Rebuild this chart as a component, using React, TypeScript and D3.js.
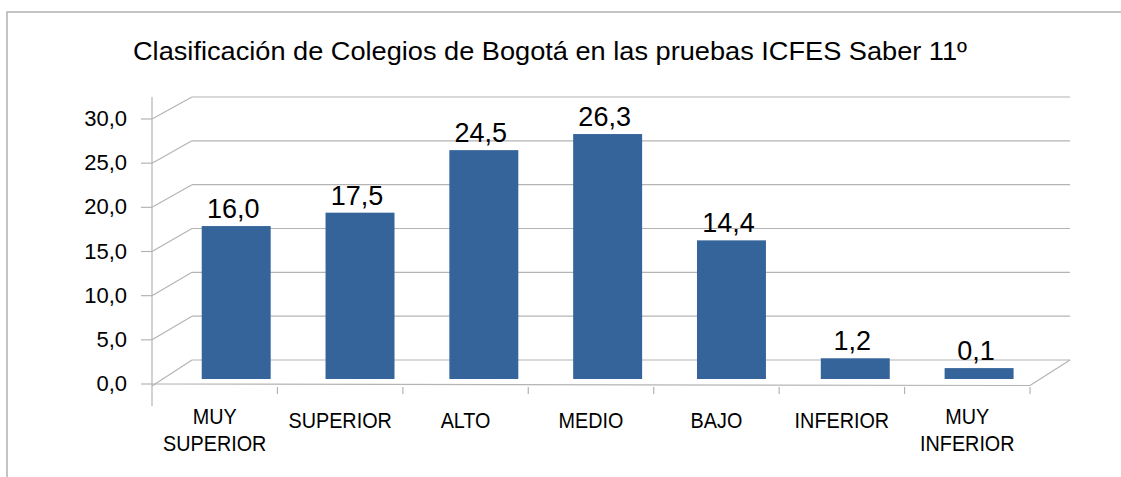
import React from "react";
import * as d3 from "d3";

// datos
const categories = [
  ["MUY", "SUPERIOR"],
  ["SUPERIOR"],
  ["ALTO"],
  ["MEDIO"],
  ["BAJO"],
  ["INFERIOR"],
  ["MUY", "INFERIOR"],
];
const values = [16.0, 17.5, 24.5, 26.3, 14.4, 1.2, 0.1];
const yTicks = [0, 5, 10, 15, 20, 25, 30];
const title = "Clasificación de Colegios de Bogotá en las pruebas ICFES Saber 11º";

const W = 1121;
const H = 477;
const depthX = 40; // desplazamiento de la pared del fondo
const barColor = "#35649a";
const gridColor = "#b4b4b4";

const es = d3.formatLocale({
  decimal: ",",
  thousands: ".",
  grouping: [3],
  currency: ["$", ""],
});
const fmt = es.format(".1f");

export default function App() {
  const keys = categories.map((c) => c.join(" "));

  const xFront = d3.scaleBand<string>().domain(keys).range([152, 1030]);
  const xBar = d3.scaleBand<string>().domain(keys).range([174.3, 1041]);
  const barW = xBar.bandwidth() * 0.557;

  const yFront = d3.scaleLinear().domain([0, 30]).range([384, 119]);
  const yBack = d3.scaleLinear().domain([0, 30]).range([360, 97]);
  const yBar = d3.scaleLinear().domain([0, 30]).range([369, 101]);
  const barBase = 379;

  const x0 = xFront.range()[0];
  const x1 = xFront.range()[1];

  return (
    <svg
      width={W}
      height={H}
      style={{ position: "absolute", left: 0, top: 0, background: "#fff" }}
      fontFamily="'Liberation Sans', Arial, sans-serif"
    >
      {/* marco */}
      <rect x={7} y={12} width={W} height={H} fill="none" stroke="#a6a6a6" strokeWidth={1.3} />

      {/* título */}
      <text
        x={550}
        y={60}
        textAnchor="middle"
        fontSize={26}
        textLength={834}
        lengthAdjust="spacingAndGlyphs"
        fill="#000"
      >
        {title}
      </text>

      {/* rejilla: marca frontal, diagonal lateral y línea de fondo */}
      <g stroke={gridColor} strokeWidth={1.2} fill="none">
        {yTicks.map((t) => (
          <g key={t}>
            <line x1={x0 - 11} x2={x0} y1={yFront(t)} y2={yFront(t)} />
            <line
              x1={x0}
              y1={t === 0 ? yFront(t) + 2 : yFront(t)}
              x2={x0 + depthX}
              y2={yBack(t)}
            />
            <line x1={x0 + depthX} x2={x1 + depthX} y1={yBack(t)} y2={yBack(t)} />
          </g>
        ))}
        {/* eje vertical */}
        <line x1={x0} x2={x0} y1={yBack(30)} y2={406} />
        {/* borde frontal del piso */}
        <line x1={x0} x2={x1} y1={yFront(0)} y2={yFront(0) + 1.5} />
        <line x1={x1} y1={yFront(0) + 1.5} x2={x1 + depthX} y2={yBack(0)} />
        {/* marcas de categoría */}
        {keys.map((k) => (
          <line
            key={k}
            x1={(xFront(k) ?? 0) + xFront.bandwidth()}
            x2={(xFront(k) ?? 0) + xFront.bandwidth()}
            y1={387}
            y2={394}
          />
        ))}
      </g>

      {/* barras */}
      {keys.map((k, i) => {
        const cx = (xBar(k) ?? 0) + xBar.bandwidth() / 2;
        const top = yBar(values[i]);
        return (
          <g key={k}>
            <rect
              x={cx - barW / 2}
              y={top}
              width={barW}
              height={Math.max(barBase - top, 0)}
              fill={barColor}
            />
            <text x={cx - 3} y={top - 8} textAnchor="middle" fontSize={27} fill="#000">
              {fmt(values[i])}
            </text>
          </g>
        );
      })}

      {/* etiquetas del eje Y */}
      {yTicks.map((t) => (
        <text key={t} x={127} y={yFront(t) + 7} textAnchor="end" fontSize={22} fill="#000">
          {fmt(t)}
        </text>
      ))}

      {/* etiquetas de categoría (letra estrecha) */}
      {categories.map((lines, i) => {
        const k = keys[i];
        const cx = (xFront(k) ?? 0) + xFront.bandwidth() / 2;
        const y0 = lines.length > 1 ? 424 : 428;
        return (
          <text
            key={k}
            transform={`translate(${cx},0) scale(0.9,1)`}
            textAnchor="middle"
            fontSize={22}
            fill="#000"
          >
            {lines.map((ln, j) => (
              <tspan key={j} x={0} y={y0 + j * 27.5}>
                {ln}
              </tspan>
            ))}
          </text>
        );
      })}
    </svg>
  );
}
